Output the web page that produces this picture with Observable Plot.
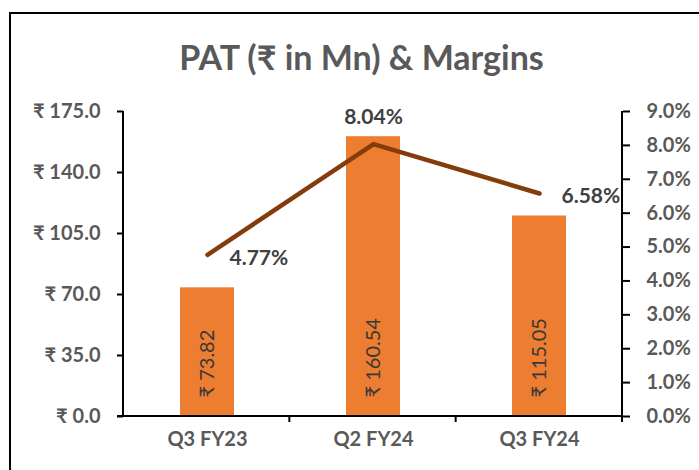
<!DOCTYPE html>
<html>
<head>
<meta charset="utf-8">
<script src="https://cdn.jsdelivr.net/npm/d3@7"></script>
<script src="https://cdn.jsdelivr.net/npm/@observablehq/plot@0.6"></script>
<style>
  html, body { margin: 0; padding: 0; background: #fff; }
  #wrap { position: relative; width: 699px; height: 470px; overflow: hidden; font-family: Lato, "Noto Sans", "DejaVu Sans", sans-serif; }
  #border { position: absolute; left: 9px; top: 12px; width: 720px; height: 500px; border: 2px solid #000; box-sizing: border-box; }
  #title { position: absolute; left: 12px; width: 699px; top: 36px; text-align: center; font-size: 34px; font-weight: 700; color: #595959; }
  #chart { position: absolute; left: 0; top: 0; }
</style>
</head>
<body>
<div id="wrap">
  <div id="border"></div>
  <div id="title">PAT (₹ in Mn) &amp; Margins</div>
  <div id="chart"></div>
</div>
<script>
const categories = ["Q3 FY23", "Q2 FY24", "Q3 FY24"];
const patValues = [73.82, 160.54, 115.05];
const marginValues = [4.77, 8.04, 6.58];
const leftTicks = [0, 35, 70, 105, 140, 175];
const rightTicks = [0, 1, 2, 3, 4, 5, 6, 7, 8, 9];

const yMax = 175, mMax = 9;
const toY = m => m / mMax * yMax;
const data = categories.map((c, i) => ({cat: c, pat: patValues[i], margin: marginValues[i], my: toY(marginValues[i])}));

const labelFont = {fontSize: 21, fontWeight: 700, fill: "#404040"};

const plot = Plot.plot({
  width: 699,
  height: 470,
  marginLeft: 123,
  marginRight: 77,
  marginTop: 111,
  marginBottom: 54,
  style: {fontFamily: 'Lato, "Noto Sans", "DejaVu Sans", sans-serif', background: "transparent", overflow: "visible"},
  x: {domain: categories, padding: 0, label: null},
  y: {domain: [0, yMax], label: null},
  marks: [
    Plot.barY(data, {x: "cat", y: "pat", fill: "#ED7D31", insetLeft: 56, insetRight: 56}),
    Plot.axisY({ticks: leftTicks, tickFormat: d => "₹ " + d.toFixed(1), tickSize: 6, tickPadding: 17,
      fontSize: 20, fontWeight: 700, fill: "#595959", stroke: "#000", strokeWidth: 2, strokeOpacity: 1, label: null}),
    Plot.axisY({anchor: "right", ticks: rightTicks.map(toY), tickFormat: d => (d / yMax * mMax).toFixed(1) + "%",
      tickSize: 7, tickPadding: 17, fontSize: 20, fontWeight: 700, fill: "#595959", stroke: "#000", strokeWidth: 2, strokeOpacity: 1, label: null}),
    Plot.axisX({tickSize: 0, tickPadding: 15, fontSize: 20, fontWeight: 700, fill: "#595959", label: null}),
    Plot.text(data, {x: "cat", y: 0, text: d => "₹ " + d.pat.toFixed(2), rotate: -90, textAnchor: "start", dy: -19,
      fontSize: 20, fill: "#383838"}),
    Plot.line(data, {x: "cat", y: "my", stroke: "#843C0C", strokeWidth: 4.5, strokeLinecap: "round", strokeLinejoin: "round"}),
    Plot.text(data.filter(d => d.cat === "Q2 FY24"), {x: "cat", y: "my", text: d => d.margin.toFixed(2) + "%", dy: -27, ...labelFont}),
    Plot.text(data.filter(d => d.cat !== "Q2 FY24"), {x: "cat", y: "my", text: d => d.margin.toFixed(2) + "%", textAnchor: "start", dx: 22, dy: 3, ...labelFont})
  ]
});

// axis lines drawn from the plot's own scales
const xs = plot.scale("x"), ys = plot.scale("y");
const [xl, xr] = xs.range, [yb, yt] = ys.range;
const svg = d3.select(plot);
const g = svg.append("g").attr("stroke", "#000").attr("stroke-width", 2);
g.append("line").attr("x1", xl).attr("x2", xl).attr("y1", yt).attr("y2", yb + 1);
g.append("line").attr("x1", xr).attr("x2", xr).attr("y1", yt).attr("y2", yb + 6);
g.append("line").attr("x1", xl - 6).attr("x2", xr).attr("y1", yb).attr("y2", yb);
const step = (xr - xl) / categories.length;
categories.slice(1).forEach((c, i) => {
  const bx = xl + step * (i + 1);
  g.append("line").attr("x1", bx).attr("x2", bx).attr("y1", yb).attr("y2", yb + 6);
});
document.getElementById("chart").appendChild(plot);
</script>
</body>
</html>
